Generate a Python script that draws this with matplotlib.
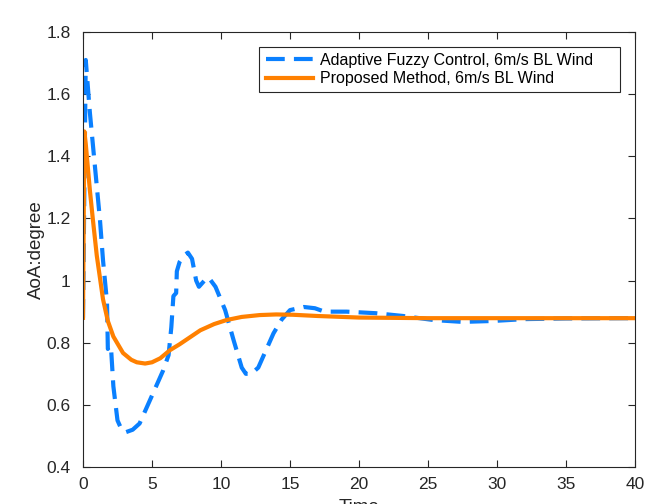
import numpy as np
import matplotlib
matplotlib.use('Agg')
import matplotlib.pyplot as plt
from matplotlib.patches import Rectangle

plt.rcParams['font.family'] = ['Liberation Sans', 'DejaVu Sans']

# Adaptive fuzzy control (dashed blue)
t_fuzzy = [0, 0.2, 0.5, 0.87, 1.23, 1.45, 1.74, 1.8, 1.95, 2.05, 2.2, 2.5, 2.8, 3.1,
           3.6, 4.1, 5.1, 5.8, 6.2, 6.4, 6.55, 6.75, 6.8, 7.0, 7.3, 7.6, 7.9, 8.2,
           8.4, 8.8, 9.1, 9.6, 10.3, 10.9, 11.5, 11.8, 12.2, 12.7, 13.3, 13.8,
           14.4, 15.0, 16.0, 16.8, 17.5, 19.1, 21.2, 23.2, 25.4, 27.5, 29.7, 32,
           35, 40]
aoa_fuzzy = [0.88, 1.71, 1.54, 1.365, 1.195, 1.066, 0.93, 0.78, 0.79, 0.77, 0.66,
             0.55, 0.52, 0.512, 0.52, 0.54, 0.64, 0.71, 0.76, 0.85, 0.95, 0.96,
             1.03, 1.06, 1.08, 1.09, 1.07, 1.0, 0.98, 1.0, 1.01, 0.98, 0.905,
             0.81, 0.72, 0.70, 0.70, 0.72, 0.78, 0.83, 0.875, 0.905, 0.915, 0.911,
             0.9, 0.9, 0.895, 0.886, 0.873, 0.867, 0.87, 0.876, 0.878, 0.879]

# Proposed method (solid orange)
t_prop = [0, 0.1, 0.2, 0.36, 0.5, 0.72, 1.0, 1.45, 1.8, 2.2, 2.9, 3.5, 3.9, 4.5,
          5.0, 5.6, 6.3, 7.0, 7.5, 8.5, 9.5, 10.4, 11.5, 12.8, 14, 15.2, 17, 20,
          25, 40]
aoa_prop = [0.88, 1.48, 1.44, 1.36, 1.29, 1.195, 1.08, 0.94, 0.87, 0.82, 0.767,
            0.745, 0.737, 0.733, 0.737, 0.75, 0.776, 0.795, 0.81, 0.84, 0.86,
            0.873, 0.883, 0.889, 0.891, 0.89, 0.886, 0.881, 0.879, 0.879]

fig = plt.figure(figsize=(6.65, 5.04), dpi=100)
ax = fig.add_axes([0.1248, 0.0734, 0.8302, 0.8631])

ax.plot(t_fuzzy, aoa_fuzzy, color='#0A80FF', lw=3, linestyle=(0, (4.5, 2.2)),
        label='Adaptive Fuzzy Control, 6m/s BL Wind')
ax.plot(t_prop, aoa_prop, color='#FF8000', lw=3,
        label='Proposed Method, 6m/s BL Wind')

ax.set_xlim(0, 40)
ax.set_ylim(0.4, 1.8)
ax.set_xticks(np.arange(0, 41, 5))
ax.set_yticks(np.arange(0.4, 1.81, 0.2))
ax.set_yticklabels(['0.4', '0.6', '0.8', '1', '1.2', '1.4', '1.6', '1.8'])

for s in ax.spines.values():
    s.set_color('#262626')
    s.set_linewidth(0.8)
ax.tick_params(direction='in', top=True, right=True, length=5, width=0.8,
               colors='#262626', labelsize=12.5, labelcolor='#262626')
ax.tick_params(axis='x', pad=7)
ax.tick_params(axis='y', pad=9)

ax.set_ylabel('AoA:degree', fontsize=13.5, color='#262626', labelpad=1)
ax.set_xlabel('Time', fontsize=13.5, color='#262626', labelpad=5)

# legend without its own frame; MATLAB-like box drawn separately
leg = fig.legend(*ax.get_legend_handles_labels(), loc='upper left',
                 bbox_to_anchor=(0.4, 0.895), fontsize=11.5, frameon=False,
                 handlelength=2.95, handletextpad=0.44, borderpad=0,
                 labelspacing=0.2, borderaxespad=0)
fig.add_artist(Rectangle((0.3895, 0.8175), 0.5429, 0.0893, transform=fig.transFigure,
                         fill=False, edgecolor='#262626', lw=0.8))

fig.savefig('out.png', dpi=100, facecolor='white')
